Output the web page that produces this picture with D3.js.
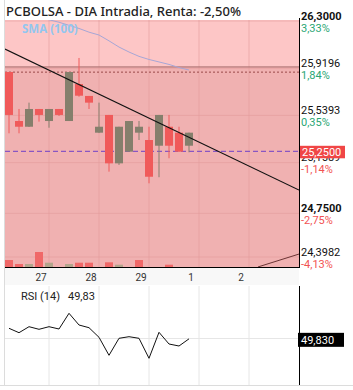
<!DOCTYPE html>
<html>
<head>
<meta charset="utf-8">
<script src="https://cdn.jsdelivr.net/npm/d3@7"></script>
<style>
body { margin: 0; background: #fff; }
text { font-family: Roboto, "Noto Sans", sans-serif; }
</style>
</head>
<body>
<script>
// candles, one per slot (index 0..18)
var opens  = [25.889, 25.494, 25.448, 25.591, 25.494, 25.591, 25.494, 25.792, 25.696, 25.400, 25.543, 25.153, 25.247, 25.400, 25.341, 25.295, 25.448, 25.400, 25.295];
var highs  = [25.889, 25.591, 25.642, 25.591, 25.591, 25.591, 25.889, 26.002, 25.696, 25.642, 25.543, 25.448, 25.494, 25.494, 25.448, 25.543, 25.543, 25.448, 25.400];
var lows   = [25.395, 25.395, 25.446, 25.489, 25.440, 25.535, 25.494, 25.690, 25.591, 25.397, 25.086, 25.140, 25.247, 25.341, 24.992, 25.041, 25.194, 25.247, 25.242];
var closes = [25.543, 25.448, 25.591, 25.543, 25.591, 25.543, 25.889, 25.698, 25.642, 25.448, 25.153, 25.448, 25.494, 25.448, 25.045, 25.543, 25.295, 25.247, 25.400];
var volumes = [7000, 3000, 3000, 15000, 4300, 0, 3000, 4300, 4300, 0, 4700, 2300, 0, 7000, 0, 0, 2300, 0, 0];
var volUp   = [0, 0, 1, 0, 1, 0, 1, 0, 0, 0, 0, 1, 0, 0, 0, 0, 0, 0, 0];
var sma = [26.42, 26.39, 26.36, 26.33, 26.31, 26.29, 26.265, 26.24, 26.21, 26.187, 26.14, 26.09, 26.05, 26.015, 25.99, 25.97, 25.95, 25.925, 25.905];
var rsi = [55.1, 52.9, 55.9, 54.6, 55.9, 54.75, 62.6, 56.75, 55.4, 50.6, 41.6, 50.1, 50.9, 50.1, 40.1, 53.1, 47.25, 46.25, 49.83];

var dayLabels = ["27", "28", "29", "1", "2"];
var dayIndex = [4, 9, 14, 19, 24];

var tickValues = [26.3, 25.9196, 25.5393, 25.1589, 24.75, 24.3982];
var tickLabels = ["26,3000", "25,9196", "25,5393", "25,1589", "24,7500", "24,3982"];
var pctLabels  = ["3,33%", "1,84%", "0,35%", "-1,14%", "-2,75%", "-4,13%"];
var boldTicks  = [1, 0, 0, 0, 1, 0];

var lastPrice = 25.25, lastLabel = "25,2500";
var zoneTop = 25.93, refLevel = 25.888;
var trend1 = [[-0.4, 26.074], [29, 24.938]];
var trend2 = [[24.9, 24.318], [29, 24.422]];
var rsiLast = "49,830", rsiTitle = "RSI (14)", rsiValue = "49,83";

var W = 353, H = 390;
var plot = {left: 5, right: 299, top: 20, bottom: 267};
var rp = {top: 286, bottom: 385};

var svg = d3.select("body").append("svg").attr("width", W).attr("height", H);

var x = d3.scaleLinear().domain([-0.4, 29]).range([plot.left, plot.right]);
var y = d3.scaleLinear().domain([24.3982, 26.3]).range([257, 21]);
var yv = d3.scaleLinear().domain([0, 15000]).range([plot.bottom, plot.bottom - 15]);
var yr = d3.scaleLinear().domain([30, 70]).range([378.5, 298.5]);

var red = "#f05a5a", grey = "#857f6c";

svg.append("clipPath").attr("id", "clip").append("rect")
    .attr("x", plot.left).attr("y", plot.top)
    .attr("width", plot.right - plot.left).attr("height", plot.bottom - plot.top);

// background zones
svg.append("rect").attr("x", plot.left).attr("y", plot.top)
    .attr("width", plot.right - plot.left).attr("height", y(zoneTop) - plot.top)
    .attr("fill", "#fdc6c6");
svg.append("rect").attr("x", plot.left).attr("y", y(zoneTop))
    .attr("width", plot.right - plot.left).attr("height", plot.bottom - y(zoneTop))
    .attr("fill", "#f0b1b1");

// x band + rsi panel
svg.append("rect").attr("x", plot.left).attr("y", plot.bottom)
    .attr("width", plot.right - plot.left).attr("height", rp.top - plot.bottom - 1)
    .attr("fill", "#f8f8f8");
svg.append("line").attr("x1", 4.5).attr("x2", 4.5).attr("y1", 0).attr("y2", rp.bottom)
    .attr("stroke", "#dcdcdc");
svg.append("line").attr("x1", 0).attr("x2", W).attr("y1", rp.bottom + 0.5).attr("y2", rp.bottom + 0.5)
    .attr("stroke", "#dcdcdc");

var g = svg.append("g").attr("clip-path", "url(#clip)");

// grid
g.selectAll(".vg").data(dayIndex).enter().append("line")
    .attr("x1", function(d) { return x(d); }).attr("x2", function(d) { return x(d); })
    .attr("y1", plot.top).attr("y2", plot.bottom)
    .attr("stroke", "#e49c9c").attr("stroke-width", 1).attr("opacity", 0.6);
g.selectAll(".hg").data(tickValues).enter().append("line")
    .attr("x1", plot.left).attr("x2", plot.right)
    .attr("y1", function(d) { return y(d); }).attr("y2", function(d) { return y(d); })
    .attr("stroke", "#e49c9c").attr("opacity", 0.6);

// zone edge and reference lines
g.append("line").attr("x1", plot.left).attr("x2", plot.right)
    .attr("y1", y(zoneTop)).attr("y2", y(zoneTop))
    .attr("stroke", "#a86c6c").attr("stroke-width", 1);
g.append("line").attr("x1", plot.left).attr("x2", plot.right)
    .attr("y1", y(refLevel)).attr("y2", y(refLevel))
    .attr("stroke", "#9a4848").attr("stroke-dasharray", "2,2");

// sma
var sline = d3.line().x(function(d, i) { return x(i); }).y(function(d) { return y(d); });
g.append("path").datum(sma).attr("d", sline)
    .attr("fill", "none").attr("stroke", "#a6a6d6").attr("stroke-width", 1);

// volume
g.selectAll(".vol").data(volumes).enter().append("rect")
    .attr("x", function(d, i) { return x(i) - 4; })
    .attr("width", 8)
    .attr("y", function(d) { return yv(d); })
    .attr("height", function(d) { return plot.bottom - yv(d); })
    .attr("fill", function(d, i) { return volUp[i] ? "#b3a58c" : "#f06868"; });

// dashed last price
g.append("line").attr("x1", plot.left).attr("x2", plot.right)
    .attr("y1", y(lastPrice)).attr("y2", y(lastPrice))
    .attr("stroke", "#7040c8").attr("stroke-width", 1).attr("stroke-dasharray", "5,3");

// candles
var idx = d3.range(opens.length);
var col = function(i) { return closes[i] >= opens[i] ? grey : red; };
g.selectAll(".wick").data(idx).enter().append("line")
    .attr("x1", function(i) { return x(i); }).attr("x2", function(i) { return x(i); })
    .attr("y1", function(i) { return y(highs[i]); }).attr("y2", function(i) { return y(lows[i]); })
    .attr("stroke", col).attr("stroke-width", 1);
g.selectAll(".body").data(idx).enter().append("rect")
    .attr("x", function(i) { return x(i) - 4; })
    .attr("width", 8)
    .attr("y", function(i) { return y(Math.max(opens[i], closes[i])); })
    .attr("height", function(i) { return Math.max(1, Math.abs(y(opens[i]) - y(closes[i]))); })
    .attr("fill", col);

// trend lines
var tline = d3.line().x(function(d) { return x(d[0]); }).y(function(d) { return y(d[1]); });
g.append("path").datum(trend1).attr("d", tline)
    .attr("fill", "none").attr("stroke", "#111").attr("stroke-width", 1.1);
g.append("path").datum(trend2).attr("d", tline)
    .attr("fill", "none").attr("stroke", "#6a3434").attr("stroke-width", 1);

// frame
svg.append("line").attr("x1", plot.left).attr("x2", plot.right)
    .attr("y1", plot.bottom + 0.5).attr("y2", plot.bottom + 0.5).attr("stroke", "#000");
svg.append("line").attr("x1", plot.right + 0.5).attr("x2", plot.right + 0.5)
    .attr("y1", 18).attr("y2", plot.bottom + 1).attr("stroke", "#000");

// title
svg.append("text").attr("x", 6).attr("y", 16)
    .style("font-family", "'Noto Sans', sans-serif")
    .attr("font-size", 13).attr("font-weight", 500).attr("fill", "#222")
    .text("PCBOLSA - DIA Intradia, Renta: -2,50%");
svg.append("text").attr("x", 22).attr("y", 33)
    .style("font-family", "'Noto Sans', sans-serif")
    .attr("font-size", 11.5).attr("font-weight", 700).attr("fill", "#93c6ef")
    .text("SMA (100)");

// right axis labels
var ax = svg.append("g");
ax.selectAll(".tl").data(tickValues).enter().append("text")
    .attr("x", 301).attr("y", function(d) { return y(d) - 1.2; })
    .attr("font-size", 11)
    .attr("font-weight", function(d, i) { return boldTicks[i] ? 700 : 400; })
    .attr("fill", "#111")
    .text(function(d, i) { return tickLabels[i]; });
ax.selectAll(".pl").data(tickValues).enter().append("text")
    .attr("x", 301).attr("y", function(d) { return y(d) + 10.5; })
    .attr("font-size", 11)
    .attr("fill", function(d, i) { return pctLabels[i][0] === "-" ? "#f25252" : "#2aa674"; })
    .text(function(d, i) { return pctLabels[i]; });
ax.append("rect").attr("x", 300).attr("y", y(lastPrice) - 5.5)
    .attr("width", 45).attr("height", 12.5).attr("fill", "#f04646");
ax.append("text").attr("x", 302).attr("y", y(lastPrice) + 4.5)
    .attr("font-size", 11).attr("fill", "#fff").text(lastLabel);

// x labels
svg.selectAll(".xl").data(dayIndex).enter().append("text")
    .attr("x", function(d) { return x(d) - 8; })
    .attr("y", 281)
    .attr("text-anchor", "middle")
    .attr("font-size", 10).attr("fill", "#333")
    .text(function(d, i) { return dayLabels[i]; });

// RSI panel
svg.selectAll(".rg").data(dayIndex).enter().append("line")
    .attr("x1", function(d) { return x(d); }).attr("x2", function(d) { return x(d); })
    .attr("y1", rp.top).attr("y2", rp.bottom)
    .attr("stroke", "#e6e6e6");
svg.append("line").attr("x1", plot.left).attr("x2", plot.right)
    .attr("y1", yr(50)).attr("y2", yr(50)).attr("stroke", "#e6e6e6");
svg.append("line").attr("x1", plot.right + 0.5).attr("x2", plot.right + 0.5)
    .attr("y1", rp.top).attr("y2", rp.bottom).attr("stroke", "#000");
svg.append("path").datum(rsi)
    .attr("d", d3.line().x(function(d, i) { return x(i); }).y(function(d) { return yr(d); }))
    .attr("fill", "none").attr("stroke", "#111").attr("stroke-width", 1);
svg.append("text").attr("x", 21).attr("y", 300).attr("font-size", 11).attr("fill", "#222").text(rsiTitle);
svg.append("text").attr("x", 68).attr("y", 300).attr("font-size", 11).attr("fill", "#222").text(rsiValue);
svg.append("rect").attr("x", 298).attr("y", yr(+rsiValue.replace(",", ".")) - 6)
    .attr("width", 46).attr("height", 14).attr("fill", "#000");
svg.append("text").attr("x", 301).attr("y", yr(+rsiValue.replace(",", ".")) + 5)
    .attr("font-size", 11).attr("fill", "#fff").text(rsiLast);
</script>
</body>
</html>
